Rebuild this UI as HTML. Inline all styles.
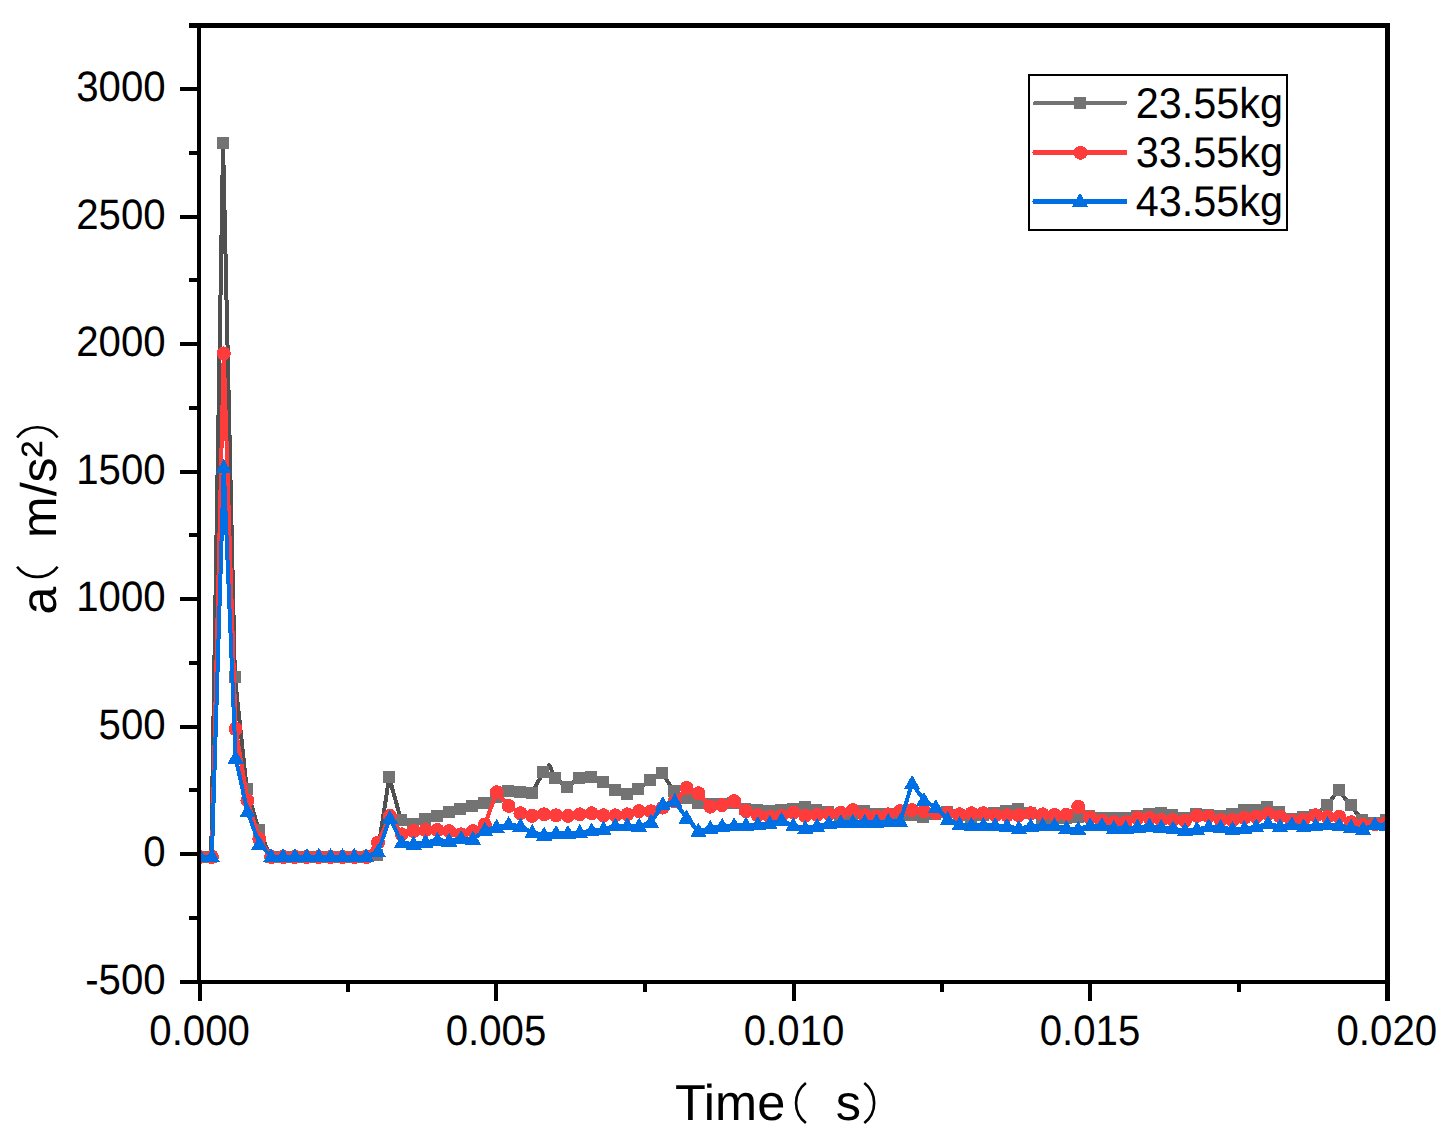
<!DOCTYPE html><html><head><meta charset="utf-8"><style>html,body{margin:0;padding:0;background:#fff;}svg{display:block;}text{font-family:"Liberation Sans",sans-serif;text-rendering:geometricPrecision;}</style></head><body>
<svg width="1444" height="1142" viewBox="0 0 1444 1142">
<rect width="1444" height="1142" fill="#fff"/>
<defs><clipPath id="pc"><rect x="201" y="28" width="1184" height="952"/></clipPath></defs>
<g clip-path="url(#pc)" shape-rendering="crispEdges">
<polyline fill="none" stroke="#505050" stroke-width="4" stroke-linejoin="round" points="199.3,856.5 211.17,856.5 223.04,143 234.9,676.9 246.77,788.9 258.64,829.5 270.51,856.5 282.38,856.5 294.24,856.5 306.11,856.5 317.98,856.5 329.85,856.5 341.72,856.5 353.58,856.5 365.45,856.5 377.32,855 389.19,777.3 401.06,820.1 412.92,824.3 424.79,819 436.66,816.4 448.53,812.2 460.4,809 472.26,806 484.13,803.3 496,797 507.87,791.2 519.74,792.2 531.6,792.9 543.47,772.4 549.41,765.3 555.34,778.4 567.21,787 579.08,778 590.94,777 602.81,782.2 614.68,790.1 626.55,794.3 638.42,789.1 650.28,780.2 662.15,773 674.02,791 685.89,798 697.76,802.8 709.62,804.3 721.49,803.5 733.36,803 745.23,808.5 757.1,810.1 768.96,811.1 780.83,810.1 792.7,809 804.57,806.9 816.44,810.1 828.3,812.2 840.17,814.9 852.04,814.9 863.91,811.1 875.78,814.3 887.64,813.9 899.51,815 911.38,814.9 923.25,817 935.12,813.9 946.98,812.2 958.85,815 970.72,817.5 982.59,815 994.46,813 1006.32,811.1 1018.19,809 1030.06,813 1041.93,818 1053.8,818 1065.66,818 1077.53,816.8 1089.4,815.9 1101.27,818 1113.14,818 1125,818 1136.87,816 1148.74,814.3 1160.61,813 1172.48,815.3 1184.34,818.3 1196.21,814.1 1208.08,815.3 1219.95,816.2 1231.82,814.3 1243.68,810.1 1255.55,810.1 1267.42,806.9 1279.29,812.2 1291.16,818.5 1303.02,817.4 1314.89,815 1326.76,805.4 1338.63,790.1 1350.5,805.4 1362.36,820.1 1374.23,822.7 1386.1,820.1"/>
<path fill="#737373" d="M193.3 850.5h12v12h-12zM205.17 850.5h12v12h-12zM217.04 137h12v12h-12zM228.9 670.9h12v12h-12zM240.77 782.9h12v12h-12zM252.64 823.5h12v12h-12zM264.51 850.5h12v12h-12zM276.38 850.5h12v12h-12zM288.24 850.5h12v12h-12zM300.11 850.5h12v12h-12zM311.98 850.5h12v12h-12zM323.85 850.5h12v12h-12zM335.72 850.5h12v12h-12zM347.58 850.5h12v12h-12zM359.45 850.5h12v12h-12zM371.32 849h12v12h-12zM383.19 771.3h12v12h-12zM395.06 814.1h12v12h-12zM406.92 818.3h12v12h-12zM418.79 813h12v12h-12zM430.66 810.4h12v12h-12zM442.53 806.2h12v12h-12zM454.4 803h12v12h-12zM466.26 800h12v12h-12zM478.13 797.3h12v12h-12zM490 791h12v12h-12zM501.87 785.2h12v12h-12zM513.74 786.2h12v12h-12zM525.6 786.9h12v12h-12zM537.47 766.4h12v12h-12zM549.34 772.4h12v12h-12zM561.21 781h12v12h-12zM573.08 772h12v12h-12zM584.94 771h12v12h-12zM596.81 776.2h12v12h-12zM608.68 784.1h12v12h-12zM620.55 788.3h12v12h-12zM632.42 783.1h12v12h-12zM644.28 774.2h12v12h-12zM656.15 767h12v12h-12zM668.02 785h12v12h-12zM679.89 792h12v12h-12zM691.76 796.8h12v12h-12zM703.62 798.3h12v12h-12zM715.49 797.5h12v12h-12zM727.36 797h12v12h-12zM739.23 802.5h12v12h-12zM751.1 804.1h12v12h-12zM762.96 805.1h12v12h-12zM774.83 804.1h12v12h-12zM786.7 803h12v12h-12zM798.57 800.9h12v12h-12zM810.44 804.1h12v12h-12zM822.3 806.2h12v12h-12zM834.17 808.9h12v12h-12zM846.04 808.9h12v12h-12zM857.91 805.1h12v12h-12zM869.78 808.3h12v12h-12zM881.64 807.9h12v12h-12zM893.51 809h12v12h-12zM905.38 808.9h12v12h-12zM917.25 811h12v12h-12zM929.12 807.9h12v12h-12zM940.98 806.2h12v12h-12zM952.85 809h12v12h-12zM964.72 811.5h12v12h-12zM976.59 809h12v12h-12zM988.46 807h12v12h-12zM1000.32 805.1h12v12h-12zM1012.19 803h12v12h-12zM1024.06 807h12v12h-12zM1035.93 812h12v12h-12zM1047.8 812h12v12h-12zM1059.66 812h12v12h-12zM1071.53 810.8h12v12h-12zM1083.4 809.9h12v12h-12zM1095.27 812h12v12h-12zM1107.14 812h12v12h-12zM1119 812h12v12h-12zM1130.87 810h12v12h-12zM1142.74 808.3h12v12h-12zM1154.61 807h12v12h-12zM1166.48 809.3h12v12h-12zM1178.34 812.3h12v12h-12zM1190.21 808.1h12v12h-12zM1202.08 809.3h12v12h-12zM1213.95 810.2h12v12h-12zM1225.82 808.3h12v12h-12zM1237.68 804.1h12v12h-12zM1249.55 804.1h12v12h-12zM1261.42 800.9h12v12h-12zM1273.29 806.2h12v12h-12zM1285.16 812.5h12v12h-12zM1297.02 811.4h12v12h-12zM1308.89 809h12v12h-12zM1320.76 799.4h12v12h-12zM1332.63 784.1h12v12h-12zM1344.5 799.4h12v12h-12zM1356.36 814.1h12v12h-12zM1368.23 816.7h12v12h-12zM1380.1 814.1h12v12h-12z"/>
<polyline fill="none" stroke="#FF3C3C" stroke-width="4" stroke-linejoin="round" points="200,857 211.87,857 223.74,353.4 235.6,729 247.47,800.4 259.34,839 271.21,857 283.08,857 294.94,857 306.81,857 318.68,857 330.55,857 342.42,857 354.28,857 366.15,857 378.02,842.5 389.89,816 401.76,834.3 413.62,831.1 425.49,830.1 437.36,830.1 449.23,831.1 461.1,834.3 472.96,831.1 484.83,824.5 496.7,792.2 508.57,805.9 520.44,813.2 532.3,815.9 544.17,814.3 556.04,815.3 567.91,815.9 579.78,814.3 591.64,813.2 603.51,815.3 615.38,815.3 627.25,814.3 639.12,811.1 650.98,811.4 662.85,807.6 674.72,801.5 686.59,788 698.46,793.3 710.32,806.7 722.19,805.1 734.06,801.2 745.93,811.1 757.8,815.2 769.66,816.8 781.53,815.9 793.4,812.7 805.27,815.9 817.14,814.8 829,813.8 840.87,812.7 852.74,810.1 864.61,815.3 876.48,816.4 888.34,814.3 900.21,811.1 912.08,810.1 923.95,811.1 935.82,813 947.68,813.2 959.55,814.3 971.42,813.2 983.29,813.2 995.16,815.3 1007.02,815.3 1018.89,815.3 1030.76,813.2 1042.63,814.3 1054.5,814.8 1066.36,814.8 1078.23,806.9 1090.1,817.4 1101.97,820.6 1113.84,822.2 1125.7,822.2 1137.57,818 1149.44,818 1161.31,820 1173.18,820.1 1185.04,820.6 1196.91,815.9 1208.78,816.4 1220.65,820.1 1232.52,820.1 1244.38,818 1256.25,816.9 1268.12,813.8 1279.99,816.5 1291.86,820.6 1303.72,819.5 1315.59,815.3 1327.46,816.9 1339.33,816.9 1351.2,822.2 1363.06,824.8 1374.93,824.4 1386.8,822.7"/>
<path fill="#FF3C3C" d="M193 857a7 7 0 1 0 14 0a7 7 0 1 0 -14 0zM204.87 857a7 7 0 1 0 14 0a7 7 0 1 0 -14 0zM216.74 353.4a7 7 0 1 0 14 0a7 7 0 1 0 -14 0zM228.6 729a7 7 0 1 0 14 0a7 7 0 1 0 -14 0zM240.47 800.4a7 7 0 1 0 14 0a7 7 0 1 0 -14 0zM252.34 839a7 7 0 1 0 14 0a7 7 0 1 0 -14 0zM264.21 857a7 7 0 1 0 14 0a7 7 0 1 0 -14 0zM276.08 857a7 7 0 1 0 14 0a7 7 0 1 0 -14 0zM287.94 857a7 7 0 1 0 14 0a7 7 0 1 0 -14 0zM299.81 857a7 7 0 1 0 14 0a7 7 0 1 0 -14 0zM311.68 857a7 7 0 1 0 14 0a7 7 0 1 0 -14 0zM323.55 857a7 7 0 1 0 14 0a7 7 0 1 0 -14 0zM335.42 857a7 7 0 1 0 14 0a7 7 0 1 0 -14 0zM347.28 857a7 7 0 1 0 14 0a7 7 0 1 0 -14 0zM359.15 857a7 7 0 1 0 14 0a7 7 0 1 0 -14 0zM371.02 842.5a7 7 0 1 0 14 0a7 7 0 1 0 -14 0zM382.89 816a7 7 0 1 0 14 0a7 7 0 1 0 -14 0zM394.76 834.3a7 7 0 1 0 14 0a7 7 0 1 0 -14 0zM406.62 831.1a7 7 0 1 0 14 0a7 7 0 1 0 -14 0zM418.49 830.1a7 7 0 1 0 14 0a7 7 0 1 0 -14 0zM430.36 830.1a7 7 0 1 0 14 0a7 7 0 1 0 -14 0zM442.23 831.1a7 7 0 1 0 14 0a7 7 0 1 0 -14 0zM454.1 834.3a7 7 0 1 0 14 0a7 7 0 1 0 -14 0zM465.96 831.1a7 7 0 1 0 14 0a7 7 0 1 0 -14 0zM477.83 824.5a7 7 0 1 0 14 0a7 7 0 1 0 -14 0zM489.7 792.2a7 7 0 1 0 14 0a7 7 0 1 0 -14 0zM501.57 805.9a7 7 0 1 0 14 0a7 7 0 1 0 -14 0zM513.44 813.2a7 7 0 1 0 14 0a7 7 0 1 0 -14 0zM525.3 815.9a7 7 0 1 0 14 0a7 7 0 1 0 -14 0zM537.17 814.3a7 7 0 1 0 14 0a7 7 0 1 0 -14 0zM549.04 815.3a7 7 0 1 0 14 0a7 7 0 1 0 -14 0zM560.91 815.9a7 7 0 1 0 14 0a7 7 0 1 0 -14 0zM572.78 814.3a7 7 0 1 0 14 0a7 7 0 1 0 -14 0zM584.64 813.2a7 7 0 1 0 14 0a7 7 0 1 0 -14 0zM596.51 815.3a7 7 0 1 0 14 0a7 7 0 1 0 -14 0zM608.38 815.3a7 7 0 1 0 14 0a7 7 0 1 0 -14 0zM620.25 814.3a7 7 0 1 0 14 0a7 7 0 1 0 -14 0zM632.12 811.1a7 7 0 1 0 14 0a7 7 0 1 0 -14 0zM643.98 811.4a7 7 0 1 0 14 0a7 7 0 1 0 -14 0zM655.85 807.6a7 7 0 1 0 14 0a7 7 0 1 0 -14 0zM667.72 801.5a7 7 0 1 0 14 0a7 7 0 1 0 -14 0zM679.59 788a7 7 0 1 0 14 0a7 7 0 1 0 -14 0zM691.46 793.3a7 7 0 1 0 14 0a7 7 0 1 0 -14 0zM703.32 806.7a7 7 0 1 0 14 0a7 7 0 1 0 -14 0zM715.19 805.1a7 7 0 1 0 14 0a7 7 0 1 0 -14 0zM727.06 801.2a7 7 0 1 0 14 0a7 7 0 1 0 -14 0zM738.93 811.1a7 7 0 1 0 14 0a7 7 0 1 0 -14 0zM750.8 815.2a7 7 0 1 0 14 0a7 7 0 1 0 -14 0zM762.66 816.8a7 7 0 1 0 14 0a7 7 0 1 0 -14 0zM774.53 815.9a7 7 0 1 0 14 0a7 7 0 1 0 -14 0zM786.4 812.7a7 7 0 1 0 14 0a7 7 0 1 0 -14 0zM798.27 815.9a7 7 0 1 0 14 0a7 7 0 1 0 -14 0zM810.14 814.8a7 7 0 1 0 14 0a7 7 0 1 0 -14 0zM822 813.8a7 7 0 1 0 14 0a7 7 0 1 0 -14 0zM833.87 812.7a7 7 0 1 0 14 0a7 7 0 1 0 -14 0zM845.74 810.1a7 7 0 1 0 14 0a7 7 0 1 0 -14 0zM857.61 815.3a7 7 0 1 0 14 0a7 7 0 1 0 -14 0zM869.48 816.4a7 7 0 1 0 14 0a7 7 0 1 0 -14 0zM881.34 814.3a7 7 0 1 0 14 0a7 7 0 1 0 -14 0zM893.21 811.1a7 7 0 1 0 14 0a7 7 0 1 0 -14 0zM905.08 810.1a7 7 0 1 0 14 0a7 7 0 1 0 -14 0zM916.95 811.1a7 7 0 1 0 14 0a7 7 0 1 0 -14 0zM928.82 813a7 7 0 1 0 14 0a7 7 0 1 0 -14 0zM940.68 813.2a7 7 0 1 0 14 0a7 7 0 1 0 -14 0zM952.55 814.3a7 7 0 1 0 14 0a7 7 0 1 0 -14 0zM964.42 813.2a7 7 0 1 0 14 0a7 7 0 1 0 -14 0zM976.29 813.2a7 7 0 1 0 14 0a7 7 0 1 0 -14 0zM988.16 815.3a7 7 0 1 0 14 0a7 7 0 1 0 -14 0zM1000.02 815.3a7 7 0 1 0 14 0a7 7 0 1 0 -14 0zM1011.89 815.3a7 7 0 1 0 14 0a7 7 0 1 0 -14 0zM1023.76 813.2a7 7 0 1 0 14 0a7 7 0 1 0 -14 0zM1035.63 814.3a7 7 0 1 0 14 0a7 7 0 1 0 -14 0zM1047.5 814.8a7 7 0 1 0 14 0a7 7 0 1 0 -14 0zM1059.36 814.8a7 7 0 1 0 14 0a7 7 0 1 0 -14 0zM1071.23 806.9a7 7 0 1 0 14 0a7 7 0 1 0 -14 0zM1083.1 817.4a7 7 0 1 0 14 0a7 7 0 1 0 -14 0zM1094.97 820.6a7 7 0 1 0 14 0a7 7 0 1 0 -14 0zM1106.84 822.2a7 7 0 1 0 14 0a7 7 0 1 0 -14 0zM1118.7 822.2a7 7 0 1 0 14 0a7 7 0 1 0 -14 0zM1130.57 818a7 7 0 1 0 14 0a7 7 0 1 0 -14 0zM1142.44 818a7 7 0 1 0 14 0a7 7 0 1 0 -14 0zM1154.31 820a7 7 0 1 0 14 0a7 7 0 1 0 -14 0zM1166.18 820.1a7 7 0 1 0 14 0a7 7 0 1 0 -14 0zM1178.04 820.6a7 7 0 1 0 14 0a7 7 0 1 0 -14 0zM1189.91 815.9a7 7 0 1 0 14 0a7 7 0 1 0 -14 0zM1201.78 816.4a7 7 0 1 0 14 0a7 7 0 1 0 -14 0zM1213.65 820.1a7 7 0 1 0 14 0a7 7 0 1 0 -14 0zM1225.52 820.1a7 7 0 1 0 14 0a7 7 0 1 0 -14 0zM1237.38 818a7 7 0 1 0 14 0a7 7 0 1 0 -14 0zM1249.25 816.9a7 7 0 1 0 14 0a7 7 0 1 0 -14 0zM1261.12 813.8a7 7 0 1 0 14 0a7 7 0 1 0 -14 0zM1272.99 816.5a7 7 0 1 0 14 0a7 7 0 1 0 -14 0zM1284.86 820.6a7 7 0 1 0 14 0a7 7 0 1 0 -14 0zM1296.72 819.5a7 7 0 1 0 14 0a7 7 0 1 0 -14 0zM1308.59 815.3a7 7 0 1 0 14 0a7 7 0 1 0 -14 0zM1320.46 816.9a7 7 0 1 0 14 0a7 7 0 1 0 -14 0zM1332.33 816.9a7 7 0 1 0 14 0a7 7 0 1 0 -14 0zM1344.2 822.2a7 7 0 1 0 14 0a7 7 0 1 0 -14 0zM1356.06 824.8a7 7 0 1 0 14 0a7 7 0 1 0 -14 0zM1367.93 824.4a7 7 0 1 0 14 0a7 7 0 1 0 -14 0zM1379.8 822.7a7 7 0 1 0 14 0a7 7 0 1 0 -14 0z"/>
<polyline fill="none" stroke="#006FE3" stroke-width="4" stroke-linejoin="round" points="200,856.5 211.87,856.5 223.74,467.5 235.6,758 247.47,811.7 259.34,844 271.21,856.5 283.08,856.5 294.94,856.5 306.81,856.5 318.68,856.5 330.55,856.5 342.42,856.5 354.28,856.5 366.15,856.5 378.02,851.7 389.89,818.3 401.76,842.7 413.62,844 425.49,842.4 437.36,840.1 449.23,841 461.1,838.5 472.96,839.2 484.83,830.3 496.7,827.1 508.57,824.5 520.44,826.1 532.3,832.4 544.17,835 556.04,833.4 567.91,833.4 579.78,832.4 591.64,830.8 603.51,829.2 615.38,825.8 627.25,825.6 639.12,826.1 650.98,822.1 662.85,804.6 674.72,801.4 686.59,818.1 698.46,831.3 710.32,828.3 722.19,826.1 734.06,825.6 745.93,825.2 757.8,824.5 769.66,823.5 781.53,820.3 793.4,825.6 805.27,828.2 817.14,826.2 829,823.5 840.87,822.4 852.74,822.4 864.61,822.4 876.48,822.1 888.34,821.4 900.21,821.4 912.08,783.5 923.95,800.3 935.82,807.5 947.68,819.5 959.55,824.5 971.42,825.2 983.29,825.2 995.16,825.6 1007.02,826.3 1018.89,828.4 1030.76,826.3 1042.63,825.6 1054.5,825.6 1066.36,828.2 1078.23,829.2 1090.1,825.6 1101.97,825.6 1113.84,828.2 1125.7,828.2 1137.57,827.1 1149.44,826.1 1161.31,827.2 1173.18,828.9 1185.04,830.5 1196.91,829.4 1208.78,826.8 1220.65,827.3 1232.52,829.4 1244.38,828.4 1256.25,826.8 1268.12,823.7 1279.99,826.5 1291.86,824.7 1303.72,826.8 1315.59,825.8 1327.46,824.7 1339.33,825.8 1351.2,827.3 1363.06,829.4 1374.93,824.7 1386.8,825.2"/>
<path fill="#006FE3" d="M200 848l8.0 14h-16zM211.87 848l8.0 14h-16zM223.74 459l8.0 14h-16zM235.6 749.5l8.0 14h-16zM247.47 803.2l8.0 14h-16zM259.34 835.5l8.0 14h-16zM271.21 848l8.0 14h-16zM283.08 848l8.0 14h-16zM294.94 848l8.0 14h-16zM306.81 848l8.0 14h-16zM318.68 848l8.0 14h-16zM330.55 848l8.0 14h-16zM342.42 848l8.0 14h-16zM354.28 848l8.0 14h-16zM366.15 848l8.0 14h-16zM378.02 843.2l8.0 14h-16zM389.89 809.8l8.0 14h-16zM401.76 834.2l8.0 14h-16zM413.62 835.5l8.0 14h-16zM425.49 833.9l8.0 14h-16zM437.36 831.6l8.0 14h-16zM449.23 832.5l8.0 14h-16zM461.1 830l8.0 14h-16zM472.96 830.7l8.0 14h-16zM484.83 821.8l8.0 14h-16zM496.7 818.6l8.0 14h-16zM508.57 816l8.0 14h-16zM520.44 817.6l8.0 14h-16zM532.3 823.9l8.0 14h-16zM544.17 826.5l8.0 14h-16zM556.04 824.9l8.0 14h-16zM567.91 824.9l8.0 14h-16zM579.78 823.9l8.0 14h-16zM591.64 822.3l8.0 14h-16zM603.51 820.7l8.0 14h-16zM615.38 817.3l8.0 14h-16zM627.25 817.1l8.0 14h-16zM639.12 817.6l8.0 14h-16zM650.98 813.6l8.0 14h-16zM662.85 796.1l8.0 14h-16zM674.72 792.9l8.0 14h-16zM686.59 809.6l8.0 14h-16zM698.46 822.8l8.0 14h-16zM710.32 819.8l8.0 14h-16zM722.19 817.6l8.0 14h-16zM734.06 817.1l8.0 14h-16zM745.93 816.7l8.0 14h-16zM757.8 816l8.0 14h-16zM769.66 815l8.0 14h-16zM781.53 811.8l8.0 14h-16zM793.4 817.1l8.0 14h-16zM805.27 819.7l8.0 14h-16zM817.14 817.7l8.0 14h-16zM829 815l8.0 14h-16zM840.87 813.9l8.0 14h-16zM852.74 813.9l8.0 14h-16zM864.61 813.9l8.0 14h-16zM876.48 813.6l8.0 14h-16zM888.34 812.9l8.0 14h-16zM900.21 812.9l8.0 14h-16zM912.08 775l8.0 14h-16zM923.95 791.8l8.0 14h-16zM935.82 799l8.0 14h-16zM947.68 811l8.0 14h-16zM959.55 816l8.0 14h-16zM971.42 816.7l8.0 14h-16zM983.29 816.7l8.0 14h-16zM995.16 817.1l8.0 14h-16zM1007.02 817.8l8.0 14h-16zM1018.89 819.9l8.0 14h-16zM1030.76 817.8l8.0 14h-16zM1042.63 817.1l8.0 14h-16zM1054.5 817.1l8.0 14h-16zM1066.36 819.7l8.0 14h-16zM1078.23 820.7l8.0 14h-16zM1090.1 817.1l8.0 14h-16zM1101.97 817.1l8.0 14h-16zM1113.84 819.7l8.0 14h-16zM1125.7 819.7l8.0 14h-16zM1137.57 818.6l8.0 14h-16zM1149.44 817.6l8.0 14h-16zM1161.31 818.7l8.0 14h-16zM1173.18 820.4l8.0 14h-16zM1185.04 822l8.0 14h-16zM1196.91 820.9l8.0 14h-16zM1208.78 818.3l8.0 14h-16zM1220.65 818.8l8.0 14h-16zM1232.52 820.9l8.0 14h-16zM1244.38 819.9l8.0 14h-16zM1256.25 818.3l8.0 14h-16zM1268.12 815.2l8.0 14h-16zM1279.99 818l8.0 14h-16zM1291.86 816.2l8.0 14h-16zM1303.72 818.3l8.0 14h-16zM1315.59 817.3l8.0 14h-16zM1327.46 816.2l8.0 14h-16zM1339.33 817.3l8.0 14h-16zM1351.2 818.8l8.0 14h-16zM1363.06 820.9l8.0 14h-16zM1374.93 816.2l8.0 14h-16zM1386.8 816.7l8.0 14h-16z"/>
</g>
<g fill="#000" shape-rendering="crispEdges">
<rect x="197" y="23" width="4" height="961"/>
<rect x="180" y="980" width="1210" height="4"/>
<rect x="189" y="23" width="1201" height="5"/>
<rect x="1385" y="23" width="5" height="978"/>
<rect x="180" y="87" width="17" height="4"/>
<rect x="180" y="215" width="17" height="4"/>
<rect x="180" y="342" width="17" height="4"/>
<rect x="180" y="470" width="17" height="4"/>
<rect x="180" y="597" width="17" height="4"/>
<rect x="180" y="725" width="17" height="4"/>
<rect x="180" y="852" width="17" height="4"/>
<rect x="189" y="151" width="8" height="4"/>
<rect x="189" y="278" width="8" height="4"/>
<rect x="189" y="406" width="8" height="4"/>
<rect x="189" y="533" width="8" height="4"/>
<rect x="189" y="661" width="8" height="4"/>
<rect x="189" y="788" width="8" height="4"/>
<rect x="189" y="916" width="8" height="4"/>
<rect x="198" y="984" width="4" height="17"/>
<rect x="494" y="984" width="4" height="17"/>
<rect x="792" y="984" width="4" height="17"/>
<rect x="1088" y="984" width="4" height="17"/>
<rect x="346" y="984" width="4" height="8"/>
<rect x="643" y="984" width="4" height="8"/>
<rect x="940" y="984" width="4" height="8"/>
<rect x="1237" y="984" width="4" height="8"/>
</g>
<text transform="translate(165.6 101) scale(1 1.057)" font-size="40.2" text-anchor="end">3000</text>
<text transform="translate(165.6 228.5) scale(1 1.057)" font-size="40.2" text-anchor="end">2500</text>
<text transform="translate(165.6 356) scale(1 1.057)" font-size="40.2" text-anchor="end">2000</text>
<text transform="translate(165.6 483.5) scale(1 1.057)" font-size="40.2" text-anchor="end">1500</text>
<text transform="translate(165.6 611) scale(1 1.057)" font-size="40.2" text-anchor="end">1000</text>
<text transform="translate(165.6 738.5) scale(1 1.057)" font-size="40.2" text-anchor="end">500</text>
<text transform="translate(165.6 866) scale(1 1.057)" font-size="40.2" text-anchor="end">0</text>
<text transform="translate(165.6 993.5) scale(1 1.057)" font-size="40.2" text-anchor="end">-500</text>
<text transform="translate(199.6 1044.6) scale(1 1.057)" font-size="40.2" text-anchor="middle">0.000</text>
<text transform="translate(496 1044.6) scale(1 1.057)" font-size="40.2" text-anchor="middle">0.005</text>
<text transform="translate(794 1044.6) scale(1 1.057)" font-size="40.2" text-anchor="middle">0.010</text>
<text transform="translate(1090 1044.6) scale(1 1.057)" font-size="40.2" text-anchor="middle">0.015</text>
<text transform="translate(1386.8 1044.6) scale(1 1.057)" font-size="40.2" text-anchor="middle">0.020</text>
<g transform="translate(674.9 1120)"><text font-size="50.5">Time</text><path d="M131 -37 A25.2 25.2 0 0 0 131 3" fill="none" stroke="#000" stroke-width="2.6"/><text x="160.9" font-size="50.5">s</text><path d="M189.4 -37 A25.2 25.2 0 0 1 189.4 3" fill="none" stroke="#000" stroke-width="2.6"/></g>
<g transform="translate(55.7 614.5) rotate(-90)"><text font-size="50">a</text><path d="M47.8 -38.6 A25.2 25.2 0 0 0 47.8 1.9" fill="none" stroke="#000" stroke-width="2.6"/><text x="76.5" font-size="50">m/s²</text><path d="M177 -38.6 A25.2 25.2 0 0 1 177 1.9" fill="none" stroke="#000" stroke-width="2.6"/></g>
<g shape-rendering="crispEdges">
<rect x="1029" y="75" width="258" height="155" fill="none" stroke="#000" stroke-width="2"/>
<line x1="1035" y1="103" x2="1125" y2="103" stroke="#737373" stroke-width="4" stroke-linecap="round"/>
<rect x="1074" y="97" width="12" height="12" fill="#737373"/>
<line x1="1035" y1="152.5" x2="1125" y2="152.5" stroke="#FF3C3C" stroke-width="5" stroke-linecap="round"/>
<circle cx="1080.5" cy="152.8" r="7" fill="#FF3C3C"/>
<line x1="1035" y1="201.5" x2="1125" y2="201.5" stroke="#006FE3" stroke-width="5" stroke-linecap="round"/>
<path d="M1080 192.8l8 14h-16z" fill="#006FE3"/>
</g>
<text transform="translate(1135.7 118) scale(1 1.04)" font-size="41.4">23.55kg</text>
<text transform="translate(1135.7 166.9) scale(1 1.04)" font-size="41.4">33.55kg</text>
<text transform="translate(1135.7 215.9) scale(1 1.04)" font-size="41.4">43.55kg</text>
</svg></body></html>
